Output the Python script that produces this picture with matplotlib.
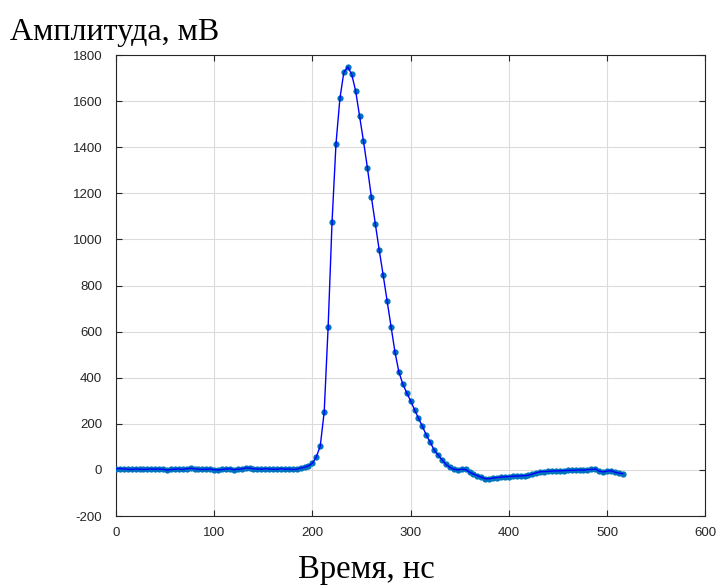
import numpy as np
import matplotlib
matplotlib.use("Agg")
import matplotlib.pyplot as plt

plt.rcParams["axes.unicode_minus"] = False

# sampled pulse, one point every 4 ns
dt_ns = 4
amplitude_mv = [
    5, 6, 4, 3, 2, 4, 3, 2, 3, 4,
    3, 4, 3, -1, 2, 3, 4, 2, 5, 7,
    5, 3, 2, 3, 4, 1, 0, 2, 4, 5,
    1, 3, 4, 9, 8, 5, 4, 3, 5, 4,
    3, 2, 6, 3, 4, 2, 3, 8, 12, 18,
    29, 57, 104, 252, 620, 1077, 1415, 1612, 1725, 1749,
    1716, 1645, 1535, 1426, 1311, 1185, 1068, 954, 846, 734,
    621, 513, 426, 373, 335, 300, 261, 224, 189, 151,
    120, 86, 65, 43, 24, 11, 3,
    0, 3, 2, -10, -18, -25, -32, -38, -38, -35,
    -33, -31, -30, -29, -27, -27, -26, -25, -23, -18,
    -12, -8, -7, -6, -5, -4, -4, -3, -2, -2,
    -1, 0, -1, 1, 2, 4, -5, -9, -5, -3,
    -10, -14, -16,
]
time_ns = np.arange(len(amplitude_mv)) * dt_ns

x_ticks = [0, 100, 200, 300, 400, 500, 600]
y_ticks = [-200, 0, 200, 400, 600, 800, 1000, 1200, 1400, 1600, 1800]

fig = plt.figure(figsize=(7.16, 5.88), dpi=100)
ax = fig.add_axes([0.162, 0.1224, 0.823, 0.784])

ax.plot(time_ns, amplitude_mv, linestyle="none", marker="o", markersize=4.5,
        color=(0.0, 0.45, 0.74), markeredgewidth=0, zorder=3)
ax.plot(time_ns, amplitude_mv, color=(0.0, 0.0, 1.0), linewidth=1.0, zorder=4)

ax.set_xlim(0, 600)
ax.set_ylim(-200, 1800)
ax.set_xticks(x_ticks)
ax.set_yticks(y_ticks)
ax.grid(True, color=(0.86, 0.86, 0.86), linewidth=0.8)
ax.set_axisbelow(True)
ax.tick_params(direction="in", top=True, right=True, length=4, width=0.8,
               labelsize=9.5, colors=(0.15, 0.15, 0.15))
ax.tick_params(axis="x", pad=8)
ax.tick_params(axis="y", pad=10)
for lbl in ax.get_xticklabels() + ax.get_yticklabels():
    lbl.set_family("Liberation Sans")
for sp in ax.spines.values():
    sp.set_color((0.15, 0.15, 0.15))
    sp.set_linewidth(0.8)

fig.text(0.014, 0.932, "Амплитуда, мВ", family="Liberation Serif", fontsize=23,
         ha="left", va="baseline")
fig.text(0.511, 0.017, "Время, нс", family="Liberation Serif", fontsize=23.5,
         ha="center", va="baseline")

fig.savefig("out.png", dpi=100)
